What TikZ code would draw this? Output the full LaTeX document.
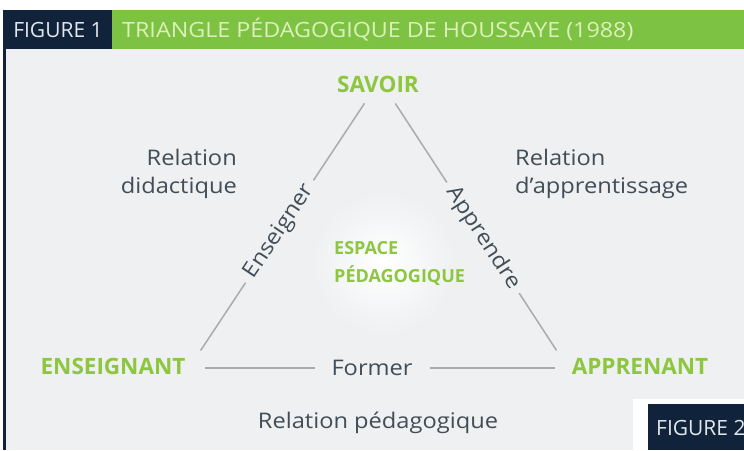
\documentclass[tikz,border=0pt]{standalone}
\usepackage{fontspec}
\setmainfont{Open Sans}
\newfontfamily\hdrfont[FakeStretch=1.0]{Open Sans}
\newfontfamily\hdrwide[FakeStretch=1.11]{Open Sans}
\newfontfamily\grayfont[FakeStretch=1.1]{Open Sans}
\definecolor{bgc}{HTML}{EEF0F1}
\definecolor{navy}{HTML}{10233A}
\definecolor{hdrgreen}{HTML}{7DC242}
\definecolor{lbgreen}{HTML}{8DC63F}
\definecolor{txtgray}{HTML}{434D57}
\definecolor{linegray}{HTML}{A7ACB1}
\definecolor{hdrtext}{HTML}{DCF0BA}
\definecolor{figtext}{HTML}{E2E7EB}
\tikzset{
  hdr/.style={font=\hdrfont\fontsize{21}{24}\selectfont, inner sep=0pt},
  vertexlbl/.style={font=\bfseries\fontsize{22.5}{26}\selectfont, text=lbgreen, inner sep=0pt},
  rel/.style={font=\grayfont\fontsize{21.5}{28}\selectfont, text=txtgray, inner sep=0pt},
  edgelbl/.style={font=\grayfont\fontsize{21.5}{24}\selectfont, text=txtgray, fill=bgc, inner xsep=7pt, inner ysep=2pt},
  edgeline/.style={draw=linegray, line width=1.5pt},
}
\begin{document}
\begin{tikzpicture}[x=1pt,y=-1pt]
\useasboundingbox (0,0) rectangle (744,450);
\fill[white] (0,0) rectangle (744,450);
\fill[bgc] (5,49) rectangle (744,450);
\fill[navy] (3,49) rectangle (6,450);
% header
\fill[navy] (3,10) rectangle (112,49);
\fill[hdrgreen] (112,10) rectangle (744,49);
\node[hdr, text=figtext] (fig1) at (58,29.5) {FIGURE 1};
\node[hdr, font=\hdrwide\fontsize{21}{24}\selectfont, text=hdrtext, anchor=west] (title) at (122,29.5) {TRIANGLE PÉDAGOGIQUE DE HOUSSAYE (1988)};
% glow
\shade[inner color=white, outer color=bgc] (384,263) circle (72pt);
% vertices
\coordinate (vS) at (380,80);
\coordinate (vE) at (189,368);
\coordinate (vA) at (568,368);
% labels
\node[vertexlbl] (savoir) at (378,84) {SAVOIR};
\node[vertexlbl] (ens) at (113,366) {ENSEIGNANT};
\node[vertexlbl] (app) at (640,366) {APPRENANT};
\node[vertexlbl, align=left, anchor=west, font=\bfseries\fontsize{18}{28}\selectfont] (espace) at (334,264) {ESPACE\\PÉDAGOGIQUE};
\node[rel, align=right, anchor=east] (reldid) at (237,174) {Relation\\didactique};
\node[rel, align=left, anchor=west] (relapp) at (515,174) {Relation\\d’apprentissage};
\node[rel] (relped) at (378,423) {Relation pédagogique};
% edges
\draw[edgeline, shorten <=28pt, shorten >=21pt] (vS) -- node[edgelbl, sloped, pos=0.526] (ensg) {Enseigner} (vE);
\draw[edgeline, shorten <=28pt, shorten >=21pt] (vS) -- node[edgelbl, sloped, pos=0.548] (appr) {Apprendre} (vA);
\draw[edgeline, shorten <=16pt, shorten >=13pt] (vE) -- node[edgelbl, pos=0.483, inner xsep=17pt] (former) {Former} (vA);
% figure 2 tab
\fill[white] (633,399) rectangle (744,450);
\fill[navy] (648,404) rectangle (744,450);
\node[hdr, text=figtext, anchor=west] (fig2) at (656,428) {FIGURE 2};
\end{tikzpicture}
\end{document}
